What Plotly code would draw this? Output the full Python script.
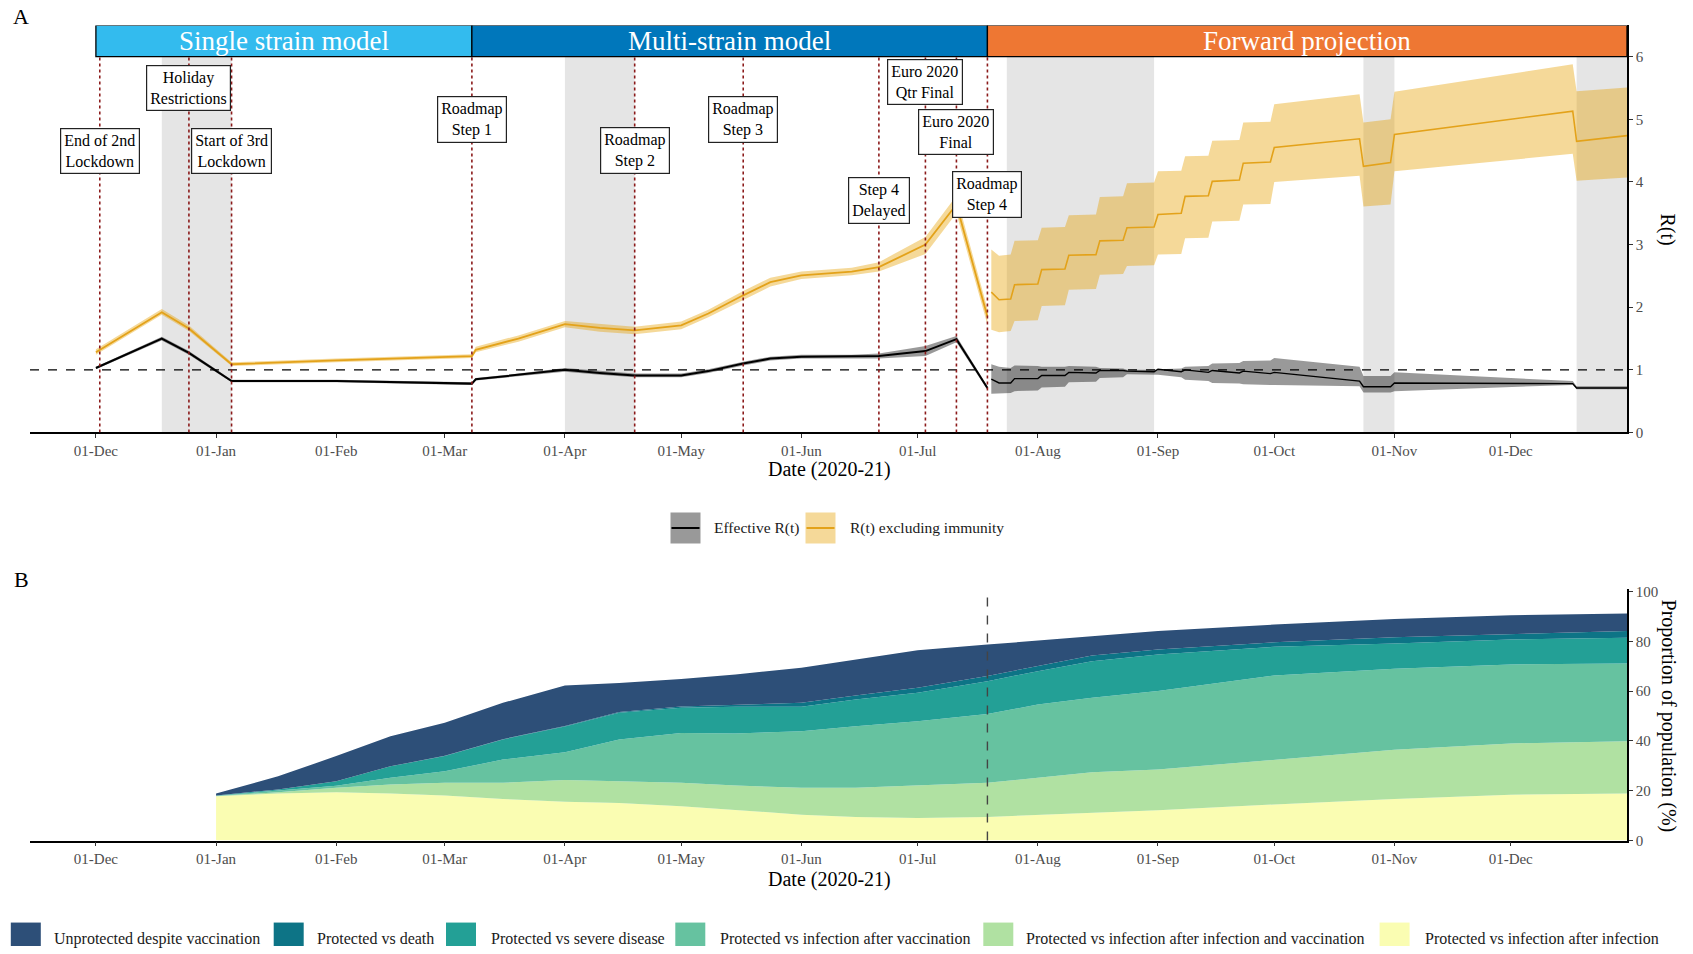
import plotly.graph_objects as go
import pandas as pd

# ---------------- Panel A data ----------------
fit_dates = ["2020-12-01", "2020-12-18", "2020-12-25", "2021-01-05", "2021-02-01", "2021-03-08",
             "2021-03-09", "2021-03-20", "2021-04-01", "2021-04-10", "2021-04-19", "2021-05-01",
             "2021-05-08", "2021-05-17", "2021-05-24", "2021-06-01", "2021-06-14", "2021-06-21",
             "2021-07-03", "2021-07-11", "2021-07-19"]
rx_mid = [1.28, 1.92, 1.66, 1.09, 1.15, 1.22, 1.32, 1.50, 1.73, 1.67, 1.63, 1.71, 1.90, 2.19, 2.40, 2.51, 2.57, 2.64, 3.00, 3.64, 1.85]
rx_lo = [1.24, 1.88, 1.62, 1.06, 1.12, 1.19, 1.28, 1.45, 1.68, 1.61, 1.57, 1.65, 1.84, 2.12, 2.33, 2.45, 2.51, 2.57, 2.85, 3.50, 1.72]
rx_hi = [1.33, 1.97, 1.71, 1.12, 1.18, 1.25, 1.37, 1.55, 1.78, 1.73, 1.69, 1.77, 1.96, 2.26, 2.47, 2.57, 2.63, 2.72, 3.12, 3.78, 1.98]
re_mid = [1.03, 1.50, 1.27, 0.82, 0.82, 0.78, 0.85, 0.92, 1.00, 0.95, 0.91, 0.91, 0.98, 1.10, 1.18, 1.21, 1.21, 1.22, 1.30, 1.49, 0.71]
re_lo = [1.01, 1.47, 1.24, 0.80, 0.80, 0.76, 0.83, 0.90, 0.97, 0.92, 0.88, 0.88, 0.95, 1.07, 1.15, 1.18, 1.18, 1.18, 1.22, 1.44, 0.68]
re_hi = [1.05, 1.53, 1.30, 0.84, 0.84, 0.80, 0.87, 0.94, 1.03, 0.98, 0.94, 0.94, 1.01, 1.13, 1.21, 1.24, 1.24, 1.26, 1.38, 1.54, 0.74]

proj_dates = ["2021-07-20", "2021-07-22", "2021-07-25", "2021-07-26", "2021-08-01", "2021-08-02",
              "2021-08-08", "2021-08-09", "2021-08-16", "2021-08-17", "2021-08-23", "2021-08-24",
              "2021-08-31", "2021-09-01", "2021-09-07", "2021-09-08", "2021-09-14", "2021-09-15",
              "2021-09-22", "2021-09-23", "2021-09-30", "2021-10-01", "2021-10-23", "2021-10-24",
              "2021-10-31", "2021-11-01", "2021-12-17", "2021-12-18", "2021-12-31"]
prx_mid = [2.24, 2.12, 2.13, 2.36, 2.37, 2.60, 2.61, 2.83, 2.84, 3.06, 3.07, 3.27, 3.28, 3.48, 3.50, 3.77, 3.78, 4.01, 4.03, 4.30, 4.32, 4.55, 4.69, 4.25, 4.31, 4.76, 5.13, 4.65, 4.74]
prx_lo = [1.64, 1.60, 1.62, 1.78, 1.79, 2.02, 2.03, 2.28, 2.29, 2.52, 2.53, 2.66, 2.67, 2.84, 2.85, 3.10, 3.11, 3.37, 3.38, 3.64, 3.65, 4.00, 4.10, 3.61, 3.64, 4.17, 4.45, 4.02, 4.07]
prx_hi = [2.92, 2.82, 2.84, 3.06, 3.07, 3.27, 3.28, 3.47, 3.48, 3.76, 3.77, 3.98, 3.99, 4.17, 4.18, 4.41, 4.42, 4.66, 4.67, 4.95, 4.96, 5.24, 5.40, 4.95, 5.00, 5.44, 5.88, 5.45, 5.51]
pre_mid = [0.85, 0.79, 0.79, 0.86, 0.86, 0.91, 0.91, 0.96, 0.95, 0.99, 0.99, 0.98, 0.97, 1.01, 0.97, 1.00, 0.96, 0.99, 0.95, 0.98, 0.94, 0.96, 0.82, 0.73, 0.73, 0.79, 0.78, 0.71, 0.71]
pre_lo = [0.62, 0.62, 0.63, 0.66, 0.67, 0.72, 0.73, 0.80, 0.81, 0.87, 0.88, 0.93, 0.92, 0.92, 0.88, 0.84, 0.82, 0.79, 0.78, 0.77, 0.76, 0.76, 0.74, 0.64, 0.64, 0.66, 0.76, 0.69, 0.69]
pre_hi = [1.09, 1.05, 1.03, 1.07, 1.06, 1.05, 1.05, 1.06, 1.05, 1.03, 1.02, 1.00, 1.00, 1.01, 1.02, 1.05, 1.06, 1.10, 1.11, 1.14, 1.15, 1.19, 1.05, 0.90, 0.90, 0.96, 0.82, 0.74, 0.74]

holiday_starts = ["2020-12-18", "2021-04-01", "2021-07-24", "2021-10-24", "2021-12-18"]
holiday_ends = ["2021-01-05", "2021-04-19", "2021-08-31", "2021-11-01", "2021-12-31"]

event_dates = ["2020-12-02", "2020-12-25", "2021-01-05", "2021-03-08", "2021-04-19",
               "2021-05-17", "2021-06-21", "2021-07-03", "2021-07-11", "2021-07-19"]
event_labels = ["End of 2nd<br>Lockdown", "Holiday<br>Restrictions", "Start of 3rd<br>Lockdown",
                "Roadmap<br>Step 1", "Roadmap<br>Step 2", "Roadmap<br>Step 3", "Step 4<br>Delayed",
                "Euro 2020<br>Qtr Final", "Euro 2020<br>Final", "Roadmap<br>Step 4"]
event_label_y = [4.5, 5.5, 4.5, 5.0, 4.5, 5.0, 3.7, 5.6, 4.8, 3.8]

phase_names = ["Single strain model", "Multi-strain model", "Forward projection"]
phase_starts = ["2020-12-01", "2021-03-08", "2021-07-19"]
phase_ends = ["2021-03-08", "2021-07-19", "2021-12-31"]
phase_colors = ["#33BBEE", "#0077BB", "#EE7733"]

r_ticks = [0, 1, 2, 3, 4, 5, 6]

# ---------------- Panel B data (cumulative upper edges, %) ----------------
b_dates = ["2021-01-01", "2021-01-17", "2021-02-01", "2021-02-15", "2021-03-01", "2021-03-16",
           "2021-04-01", "2021-04-15", "2021-05-01", "2021-05-15", "2021-06-01", "2021-06-15",
           "2021-07-01", "2021-07-19", "2021-08-01", "2021-08-15", "2021-09-01", "2021-10-01",
           "2021-11-01", "2021-12-01", "2021-12-31"]
top_inf = [17.8, 18.9, 19.4, 18.9, 18.1, 16.7, 15.6, 15.1, 13.8, 12.4, 10.4, 9.5, 9.1, 9.5, 10.3, 11.1, 12.2, 14.5, 16.7, 18.4, 18.9]
top_inf_vacc = [17.9, 19.4, 21.2, 22.5, 23.2, 23.2, 24.3, 23.8, 23.2, 22.1, 21.2, 21.2, 22.1, 23.2, 25.2, 27.4, 28.5, 32.3, 36.5, 39.0, 39.9]
top_vacc = [18.0, 20.0, 22.0, 25.2, 27.8, 32.5, 35.5, 40.6, 43.2, 43.0, 43.9, 45.9, 47.9, 50.8, 54.6, 57.3, 60.0, 66.3, 69.0, 70.7, 71.1]
top_severe = [18.1, 20.5, 23.8, 29.8, 33.9, 40.6, 45.8, 51.3, 53.3, 53.7, 53.7, 56.6, 59.3, 64.0, 68.0, 72.0, 74.7, 77.8, 79.1, 80.7, 81.4]
top_death = [18.1, 20.5, 23.8, 29.8, 34.0, 40.7, 46.0, 51.6, 53.8, 54.4, 55.3, 58.2, 61.3, 66.1, 70.0, 74.3, 76.7, 79.6, 81.6, 83.0, 84.1]
top_unprot = [18.9, 25.8, 33.9, 41.9, 47.3, 55.3, 62.3, 63.3, 64.9, 66.7, 69.4, 72.7, 76.4, 78.7, 80.3, 82.0, 84.1, 86.7, 89.0, 90.5, 91.2]

b_layers = [top_inf, top_inf_vacc, top_vacc, top_severe, top_death, top_unprot]
b_names = ["Protected vs infection after infection",
           "Protected vs infection after infection and vaccination",
           "Protected vs infection after vaccination",
           "Protected vs severe disease",
           "Protected vs death",
           "Unprotected despite vaccination"]
b_colors = ["#FAFDB2", "#B0E1A2", "#66C2A0", "#23A096", "#0D7486", "#2D4F78"]
pct_ticks = [0, 20, 40, 60, 80, 100]

x_range = ["2020-11-14", "2021-12-31"]
proj_line_date = "2021-07-19"

# ---------------- styling ----------------
W, H = 1693, 954
SERIF = "Liberation Serif, Times New Roman, serif"
YEL_LINE = "#E3A21A"
YEL_FILL = "rgba(230,159,0,0.40)"
GRY_FILL = "rgba(0,0,0,0.40)"

# the photographed page comes out slightly squeezed vertically; pre-compensate layout positions
V_OFF, V_SCALE = 5.6, 0.9862


def pxx(p):
    return p / W


def pxy(p):
    q = (p - V_OFF) / V_SCALE
    return 1 - q / H


fig = go.Figure()


def ribbon(x, lo, hi, color, xa="x", ya="y"):
    fig.add_trace(go.Scatter(x=x, y=lo, mode="lines", line=dict(width=0, color="rgba(0,0,0,0)"),
                             showlegend=False, hoverinfo="skip", xaxis=xa, yaxis=ya))
    fig.add_trace(go.Scatter(x=x, y=hi, mode="lines", line=dict(width=0, color="rgba(0,0,0,0)"),
                             fill="tonexty", fillcolor=color, showlegend=False, hoverinfo="skip",
                             xaxis=xa, yaxis=ya))


ribbon(fit_dates, rx_lo, rx_hi, YEL_FILL)
ribbon(proj_dates, prx_lo, prx_hi, YEL_FILL)
ribbon(fit_dates, re_lo, re_hi, GRY_FILL)
ribbon(proj_dates, pre_lo, pre_hi, GRY_FILL)

fig.add_trace(go.Scatter(x=fit_dates, y=rx_mid, mode="lines", line=dict(color=YEL_LINE, width=1.8),
                         name="R(t) excluding immunity", showlegend=False))
fig.add_trace(go.Scatter(x=proj_dates, y=prx_mid, mode="lines", line=dict(color=YEL_LINE, width=1.6),
                         showlegend=False))
fig.add_trace(go.Scatter(x=fit_dates, y=re_mid, mode="lines", line=dict(color="black", width=2),
                         name="Effective R(t)", showlegend=False))
fig.add_trace(go.Scatter(x=proj_dates, y=pre_mid, mode="lines", line=dict(color="black", width=1.4),
                         showlegend=False))

# Panel B stacked areas
for i, (vals, nm, col) in enumerate(zip(b_layers, b_names, b_colors)):
    fig.add_trace(go.Scatter(x=b_dates, y=vals, mode="lines", name=nm,
                             line=dict(width=0, color=col),
                             fill="tozeroy" if i == 0 else "tonexty", fillcolor=col,
                             showlegend=False, xaxis="x2", yaxis="y2"))

shapes = []
for s, e in zip(holiday_starts, holiday_ends):
    shapes.append(dict(type="rect", xref="x", yref="y", x0=s, x1=e, y0=0, y1=6,
                       fillcolor="#E5E5E5", line=dict(width=0), layer="below"))
shapes.append(dict(type="line", xref="x domain", yref="y", x0=0, x1=1, y0=1, y1=1,
                   line=dict(color="black", width=1.4, dash="dash"), layer="above"))
for d in event_dates:
    shapes.append(dict(type="line", xref="x", yref="y", x0=d, x1=d, y0=0, y1=6,
                       line=dict(color="#8B1A1A", width=1.6, dash="dot"), layer="above"))
for s, e, c in zip(phase_starts, phase_ends, phase_colors):
    shapes.append(dict(type="rect", xref="x", yref="y", x0=s, x1=e, y0=6, y1=6.5,
                       fillcolor=c, line=dict(color="black", width=1.3), layer="above"))
shapes.append(dict(type="line", xref="x2", yref="y2 domain", x0=proj_line_date, x1=proj_line_date,
                   y0=0, y1=1, line=dict(color="#444444", width=1.4, dash="dash"), layer="above"))

C = dict(xanchor="center", yanchor="middle", showarrow=False)
annotations = []
for nm, s, e in zip(phase_names, phase_starts, phase_ends):
    mid = pd.Timestamp(s) + (pd.Timestamp(e) - pd.Timestamp(s)) / 2
    annotations.append(dict(x=mid, y=6.25, xref="x", yref="y", text=nm,
                            font=dict(family=SERIF, size=27, color="white"), **C))
for d, t, yy in zip(event_dates, event_labels, event_label_y):
    annotations.append(dict(x=d, y=yy, xref="x", yref="y", text=t,
                            font=dict(family=SERIF, size=16, color="black"),
                            bgcolor="white", bordercolor="#222222", borderwidth=1.2, borderpad=3, **C))

annotations += [
    dict(x=pxx(829), y=pxy(470), xref="paper", yref="paper", text="Date (2020-21)",
         font=dict(family=SERIF, size=20, color="black"), **C),
    dict(x=pxx(829), y=pxy(880), xref="paper", yref="paper", text="Date (2020-21)",
         font=dict(family=SERIF, size=20, color="black"), **C),
    dict(x=pxx(1668), y=pxy(230), xref="paper", yref="paper", text="R(t)", textangle=90,
         font=dict(family=SERIF, size=20, color="black"), **C),
    dict(x=pxx(1668), y=pxy(716), xref="paper", yref="paper", text="Proportion of population (%)",
         textangle=90, font=dict(family=SERIF, size=20, color="black"), **C),
    dict(x=pxx(21), y=pxy(17), xref="paper", yref="paper", text="A",
         font=dict(family=SERIF, size=22, color="black"), **C),
    dict(x=pxx(21), y=pxy(580), xref="paper", yref="paper", text="B",
         font=dict(family=SERIF, size=22, color="black"), **C),
]

# manual legend, panel A
legA = [("Effective R(t)", "#999999", "black", 670.5, 711.5),
        ("R(t) excluding immunity", "#F5D999", YEL_LINE, 805.5, 847.6)]
for txt, fillc, linec, x0, tx in legA:
    shapes.append(dict(type="rect", xref="paper", yref="paper", x0=pxx(x0), x1=pxx(x0 + 30),
                       y0=pxy(544), y1=pxy(513), fillcolor=fillc, line=dict(width=0)))
    shapes.append(dict(type="line", xref="paper", yref="paper", x0=pxx(x0 + 1), x1=pxx(x0 + 29),
                       y0=pxy(528.5), y1=pxy(528.5), line=dict(color=linec, width=2)))
    annotations.append(dict(x=pxx(tx), y=pxy(528.5), xref="paper", yref="paper", text=txt,
                            showarrow=False, xanchor="left", yanchor="middle",
                            font=dict(family=SERIF, size=15.5, color="#1A1A1A")))

# manual legend, panel B
legB_order = [5, 4, 3, 2, 1, 0]
legB_sq = [10.8, 273.7, 446.0, 675.3, 983.3, 1379.6]
legB_tx = [51.5, 315.4, 489.0, 718.0, 1023.7, 1422.6]
for idx, sx, tx in zip(legB_order, legB_sq, legB_tx):
    shapes.append(dict(type="rect", xref="paper", yref="paper", x0=pxx(sx), x1=pxx(sx + 30),
                       y0=0, y1=pxy(923), fillcolor=b_colors[idx], line=dict(width=0)))
    annotations.append(dict(x=pxx(tx), y=pxy(939), xref="paper", yref="paper", text=b_names[idx],
                            showarrow=False, xanchor="left", yanchor="middle",
                            font=dict(family=SERIF, size=16, color="#1A1A1A")))

x_dom = [pxx(30), pxx(1627)]
xcommon = dict(domain=x_dom, type="date", range=x_range, tick0="2020-12-01", dtick="M1",
               tickformat="%d-%b", ticks="outside", ticklen=4, tickwidth=1.3, tickcolor="#333333",
               showline=True, linecolor="black", linewidth=1.5, showgrid=False, zeroline=False,
               tickfont=dict(family=SERIF, size=15, color="#4D4D4D"))
ycommon = dict(side="right", ticks="outside", ticklen=4, tickwidth=1.3, tickcolor="#333333",
               showline=True, linecolor="black", linewidth=1.5, showgrid=False, zeroline=False,
               tickfont=dict(family=SERIF, size=15, color="#4D4D4D"))

fig.update_layout(
    width=W, height=H,
    margin=dict(l=0, r=0, t=0, b=0),
    paper_bgcolor="white", plot_bgcolor="white",
    showlegend=False,
    xaxis=dict(anchor="y", **xcommon),
    yaxis=dict(anchor="x", domain=[pxy(433), pxy(26)], range=[0, 6.5], tickvals=r_ticks, **ycommon),
    xaxis2=dict(anchor="y2", **xcommon),
    yaxis2=dict(anchor="x2", domain=[pxy(841), pxy(589)], range=[0, 101.2], tickvals=pct_ticks, **ycommon),
    shapes=shapes,
    annotations=annotations,
    font=dict(family=SERIF),
)

page_fix = (
    "document.documentElement.style.margin='0';"
    "document.documentElement.style.padding='0';"
    "document.documentElement.style.overflow='hidden';"
    "document.documentElement.style.height='954px';"
    "document.body.style.margin='0';"
    "document.body.style.padding='0';"
    "document.body.style.overflow='hidden';"
    "document.body.style.height='954px';"
    "var gd=document.getElementById('{plot_id}');"
    "gd.style.position='absolute';gd.style.top='0px';gd.style.left='0px';"
)

fig.write_html("out.html", config={"displayModeBar": False}, post_script=page_fix)
